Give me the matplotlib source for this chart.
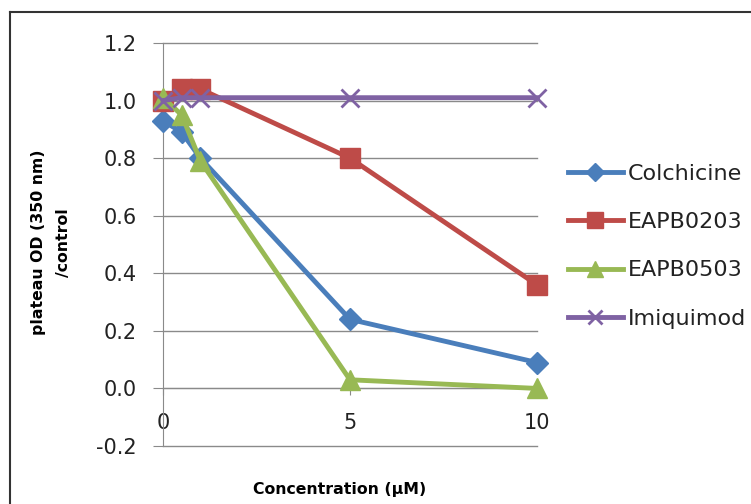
import matplotlib.pyplot as plt
from matplotlib.lines import Line2D

# concentrations (uM)
conc = [0, 0.5, 1, 5, 10]

colchicine = [0.93, 0.89, 0.80, 0.24, 0.09]
eapb0203 = [1.00, 1.04, 1.04, 0.80, 0.36]
eapb0503 = [1.01, 0.95, 0.79, 0.03, 0.00]
imiquimod = [1.00, 1.01, 1.01, 1.01, 1.01]

names = ["Colchicine", "EAPB0203", "EAPB0503", "Imiquimod"]
yticks = [-0.2, 0.0, 0.2, 0.4, 0.6, 0.8, 1.0, 1.2]
xticks = [0, 5, 10]

plt.rcParams['font.family'] = ['DejaVu Sans']

fig = plt.figure(figsize=(7.51, 5.04), dpi=100)
ax = fig.add_axes([163 / 751, 1 - 446 / 504, (537 - 163) / 751, (446 - 43) / 504])

series = [
    (colchicine, "#4A7EBB", "D", 11),
    (eapb0203, "#BE4B48", "s", 14),
    (eapb0503, "#98B954", "^", 14),
    (imiquimod, "#7F62A3", "x", 13),
]
for (vals, col, mk, ms), nm in zip(series, names):
    ax.plot(conc, vals, color=col, lw=3.5, marker=mk, ms=ms, mew=2 if mk == "x" else 1,
            mec=col, mfc=col, label=nm, clip_on=False, zorder=3)

ax.set_xlim(0, 10)
ax.set_ylim(-0.2, 1.2)
ax.set_yticks(yticks)
ax.set_yticklabels([f"{v:.1f}" for v in yticks])
ax.set_xticks(xticks)
ax.set_xticklabels([str(v) for v in xticks])

for y in yticks:
    ax.axhline(y, color="#8a8a8a", lw=1, zorder=1, clip_on=False)

for s in ["top", "right"]:
    ax.spines[s].set_visible(False)
ax.spines["bottom"].set_position(("data", 0))
ax.spines["bottom"].set_color("#8a8a8a")
ax.spines["left"].set_color("#8a8a8a")
ax.tick_params(axis="y", length=7, color="#8a8a8a", labelsize=15, pad=12, labelcolor="#222222")
ax.tick_params(axis="x", length=5, color="#8a8a8a", labelsize=15, pad=13, labelcolor="#222222")

ax.set_xlabel("Concentration (\u00b5M)", fontsize=11.3, fontweight="bold")
ax.xaxis.set_label_coords(0.473, -0.09)
ax.set_ylabel("plateau OD (350 nm)\n/control", fontsize=11.3, fontweight="bold",
              linespacing=1.85, va="center")
ax.yaxis.set_label_coords(-0.30, 0.505)

handles = [Line2D([0], [0], color=c, lw=3.5, marker=m, ms=ms * 0.8, mec=c, mfc=c,
                  mew=2 if m == "x" else 1) for _, c, m, ms in series]
fig.legend(handles, names, loc="upper left", bbox_to_anchor=(559 / 751, 1 - 155 / 504),
           frameon=False, fontsize=16, handlelength=2.48, labelspacing=1.27,
           handletextpad=0.22, borderaxespad=0, labelcolor="#222222")

# partial border frame like the original screenshot
fig.add_artist(Line2D([10 / 751, 10 / 751], [0, 1 - 12 / 504], color="#333333", lw=1.5,
                      transform=fig.transFigure))
fig.add_artist(Line2D([10 / 751, 1], [1 - 12 / 504, 1 - 12 / 504], color="#333333", lw=1.5,
                      transform=fig.transFigure))

fig.savefig("out.png", dpi=100)
